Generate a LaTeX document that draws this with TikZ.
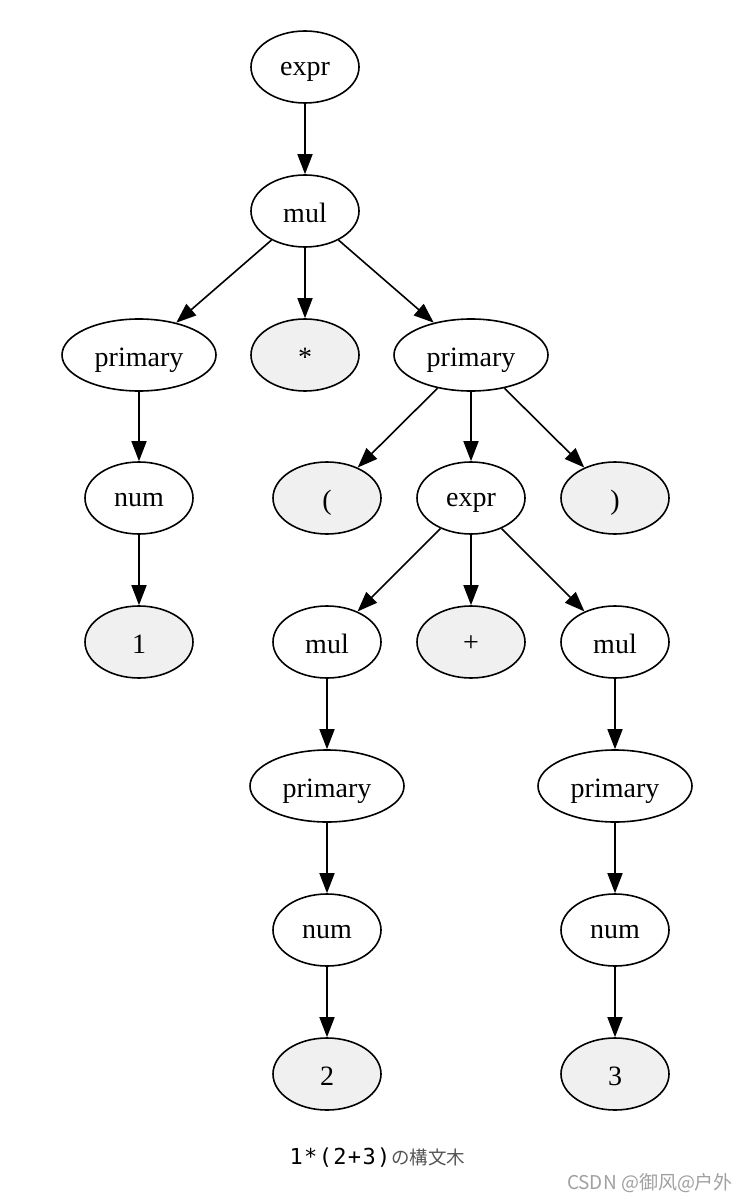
\documentclass[tikz,border=0pt]{standalone}
\usepackage{fontspec}
\setmainfont{Liberation Serif}
\newfontfamily\jpfont{Noto Sans CJK JP}
\newfontfamily\scfont{Noto Sans CJK SC}
\newfontfamily\monofont{DejaVu Sans Mono}
\usetikzlibrary{shapes.geometric,arrows.meta}
\definecolor{leaf}{RGB}{240,240,240}
\definecolor{captiongray}{RGB}{85,85,85}
\definecolor{wmgray}{RGB}{160,160,160}
\newcommand{\mc}[1]{\makebox[14.6pt][c]{#1}}
\begin{document}
\begin{tikzpicture}[x=1pt,y=-1pt,
  nd/.style={ellipse,draw=black,line width=1.6pt,minimum width=108pt,minimum height=72pt,inner sep=0pt,font=\fontsize{28}{30}\selectfont,text depth=0pt},
  wide/.style={nd,minimum width=154pt},
  lf/.style={nd,fill=leaf},
  edge/.style={line width=1.6pt,-{Triangle[length=20pt,width=15pt]}}]
\useasboundingbox (0,0) rectangle (746,1201);
\node[nd] (e1) at (305,67) {\raisebox{-4pt}{expr}};
\node[nd] (m1) at (305,211) {\raisebox{-4pt}{mul}};
\node[wide] (p1) at (139,355) {\raisebox{-4pt}{primary}};
\node[lf] (star) at (305,355) {\raisebox{-4pt}{*}};
\node[wide] (p2) at (471,355) {\raisebox{-4pt}{primary}};
\node[nd] (n1) at (139,498) {\raisebox{-4pt}{num}};
\node[lf] (lp) at (327,498) {\raisebox{-4pt}{(}};
\node[nd] (e2) at (471,498) {\raisebox{-4pt}{expr}};
\node[lf] (rp) at (615,498) {\raisebox{-4pt}{)}};
\node[lf] (one) at (139,642) {\raisebox{-4pt}{1}};
\node[nd] (m2) at (327,642) {\raisebox{-4pt}{mul}};
\node[lf] (plus) at (471,642) {\raisebox{-4pt}{+}};
\node[nd] (m3) at (615,642) {\raisebox{-4pt}{mul}};
\node[wide] (p3) at (327,786) {\raisebox{-4pt}{primary}};
\node[wide] (p4) at (615,786) {\raisebox{-4pt}{primary}};
\node[nd] (n2) at (327,930) {\raisebox{-4pt}{num}};
\node[nd] (n3) at (615,930) {\raisebox{-4pt}{num}};
\node[lf] (two) at (327,1074) {\raisebox{-4pt}{2}};
\node[lf] (three) at (615,1074) {\raisebox{-4pt}{3}};
\draw[edge] (e1) -- (m1);
\draw[edge] (m1) -- (p1);
\draw[edge] (m1) -- (star);
\draw[edge] (m1) -- (p2);
\draw[edge] (p1) -- (n1);
\draw[edge] (n1) -- (one);
\draw[edge] (p2) -- (lp);
\draw[edge] (p2) -- (e2);
\draw[edge] (p2) -- (rp);
\draw[edge] (e2) -- (m2);
\draw[edge] (e2) -- (plus);
\draw[edge] (e2) -- (m3);
\draw[edge] (m2) -- (p3);
\draw[edge] (p3) -- (n2);
\draw[edge] (n2) -- (two);
\draw[edge] (m3) -- (p4);
\draw[edge] (p4) -- (n3);
\draw[edge] (n3) -- (three);
\node[inner sep=0pt] (cap) at (377,1158) {{\monofont\fontsize{22}{24}\selectfont\mc{1}\mc{*}\mc{(}\mc{2}\mc{+}\mc{3}\mc{)}}{\jpfont\fontsize{18.5}{24}\selectfont\textcolor{captiongray}{の構文木}}};
\node[font=\scfont\fontsize{19}{22}\selectfont,text=wmgray,inner sep=0pt] (wm) at (650,1183) {CSDN @御风@户外};
\end{tikzpicture}
\end{document}
